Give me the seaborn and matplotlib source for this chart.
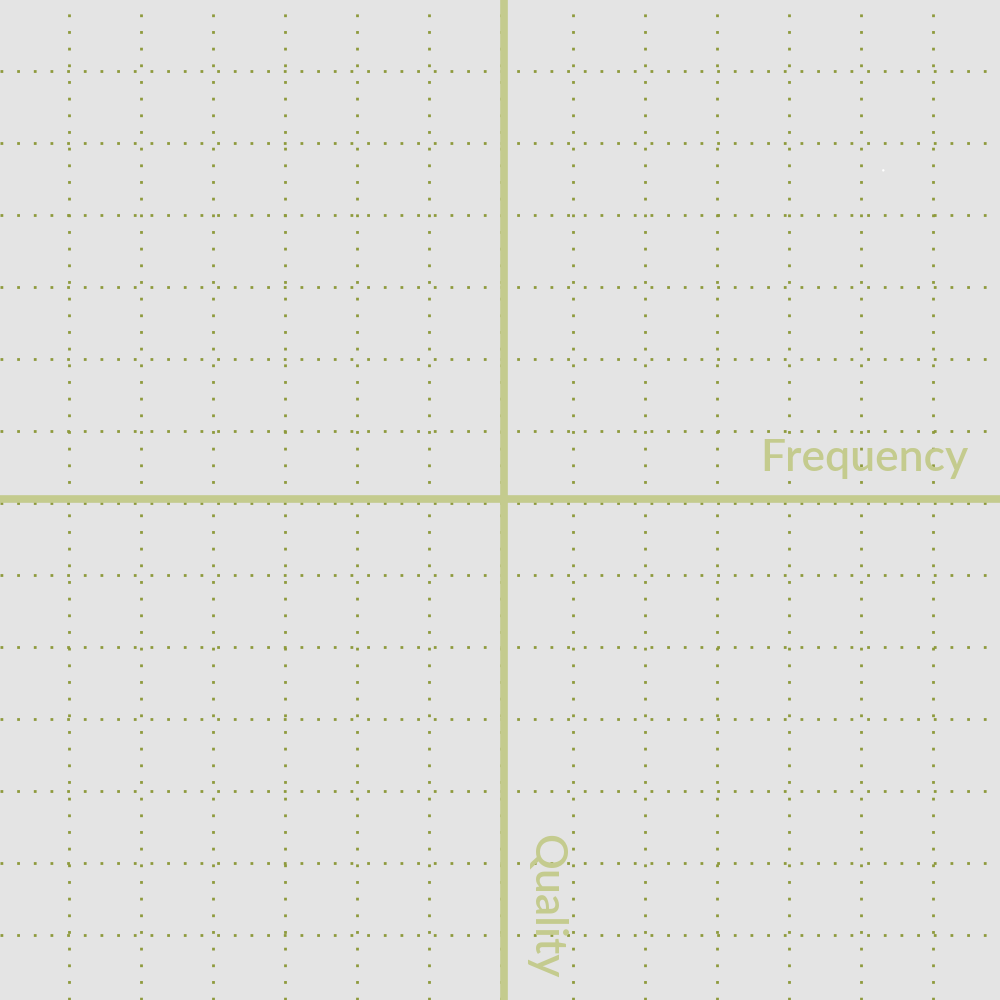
import numpy as np
import pandas as pd
import seaborn as sns
import matplotlib
matplotlib.use('Agg')
import matplotlib.pyplot as plt

# data
axis_labels = ["Frequency", "Quality"]
point_x = [5.31]
point_y = [4.62]
grid_ticks = list(range(-6, 7))

BG = "#e4e4e4"
AXIS = "#c4cb8e"
DOTS = "#8e9a3c"

sns.set_theme(style="white")
plt.rcParams['font.family'] = ['Lato', 'DejaVu Sans']

fig = plt.figure(figsize=(10, 10), dpi=100, facecolor=BG)
ax = fig.add_axes([0, 0, 1, 1])
ax.set_facecolor(BG)

df = pd.DataFrame({"x": point_x, "y": point_y})
sns.scatterplot(data=df, x="x", y="y", ax=ax, s=3, color="white",
                edgecolor="none", zorder=4)

ax.set_xlim(-501 / 72, 499 / 72)
ax.set_ylim(-497 / 72, 503 / 72)
ax.set_xticks(grid_ticks)
ax.set_yticks(grid_ticks)
ax.grid(True, color=DOTS, linestyle=(0, (1, 5)), linewidth=2)
ax.tick_params(length=0, labelbottom=False, labelleft=False)
for s in ax.spines.values():
    s.set_visible(False)

# main cross axes
ax.axhline(0.05, color=AXIS, linewidth=5.5, zorder=3)
ax.axvline(0.035, color=AXIS, linewidth=5.5, zorder=3)

ax.text(968 / 72 - 501 / 72, 0.33, axis_labels[0], color=AXIS, fontsize=32,
        fontweight='semibold', ha='right', va='bottom')
ax.text(0.34, -497 / 72 + 22 / 72, axis_labels[1], color=AXIS, fontsize=32,
        fontweight='semibold', rotation=-90, ha='left', va='bottom')

ax.set_xlabel("")
ax.set_ylabel("")
fig.savefig("out.png", dpi=100, facecolor=BG)
